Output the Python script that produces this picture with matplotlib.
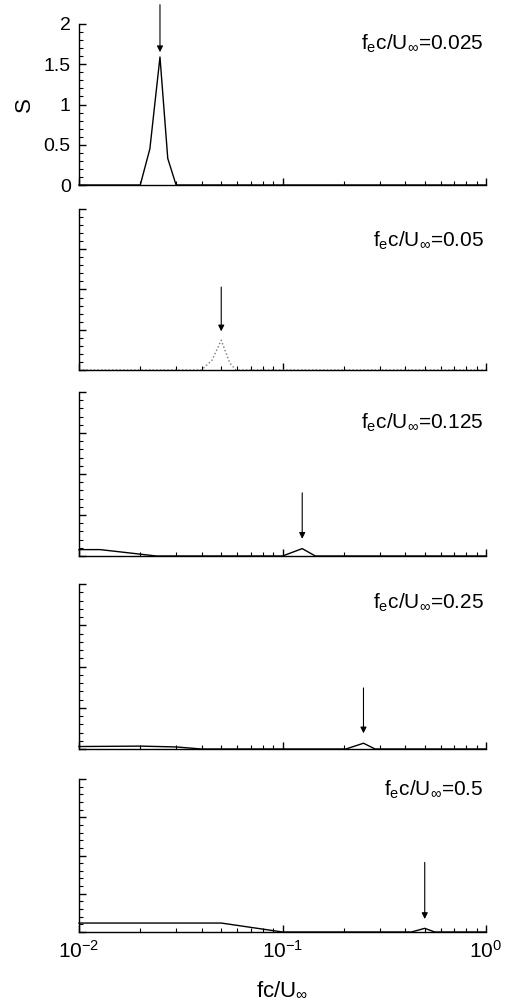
import matplotlib
matplotlib.use("Agg")
import matplotlib.pyplot as plt
from matplotlib.ticker import MultipleLocator, LogLocator, NullFormatter, FixedLocator

plt.rcParams['font.family'] = ['Liberation Sans', 'DejaVu Sans']
plt.rcParams['mathtext.fontset'] = 'custom'
plt.rcParams['mathtext.rm'] = 'Liberation Sans'
plt.rcParams['mathtext.it'] = 'Liberation Sans:italic'

# ---- data ----
excitation = [0.025, 0.05, 0.125, 0.25, 0.5]
labels = ["0.025", "0.05", "0.125", "0.25", "0.5"]

f1 = [0.01, 0.02, 0.0223, 0.025, 0.0273, 0.03, 1.0]
s1 = [0.0, 0.0, 0.45, 1.59, 0.33, 0.0, 0.0]

f2 = [0.01, 0.040, 0.045, 0.05, 0.055, 0.059, 1.0]
s2 = [0.0, 0.0, 0.12, 0.37, 0.09, 0.0, 0.0]

f3 = [0.01, 0.0127, 0.024, 0.1, 0.125, 0.145, 1.0]
s3 = [0.078, 0.078, 0.0, 0.0, 0.09, 0.0, 0.0]

f4 = [0.01, 0.02, 0.03, 0.04, 0.205, 0.25, 0.285, 1.0]
s4 = [0.03, 0.035, 0.025, 0.0, 0.0, 0.07, 0.0, 0.0]

f5 = [0.01, 0.05, 0.1, 0.43, 0.5, 0.56, 1.0]
s5 = [0.117, 0.117, 0.0, 0.0, 0.048, 0.0, 0.0]

freqs = [f1, f2, f3, f4, f5]
spectra = [s1, s2, s3, s4, s5]
arrow_top = [2.24, 1.03, 0.77, 0.74, 0.91]
arrow_tip = [1.65, 0.48, 0.21, 0.19, 0.17]
label_y = [0.875, 0.80, 0.81, 0.885, 0.93]
line_colors = ['black', '#777777', 'black', 'black', 'black']
line_styles = ['-', ':', '-', '-', '-']

yticks = [0, 0.5, 1, 1.5, 2]
ytick_labels = ["0", "0.5", "1", "1.5", "2"]
xticks = [0.01, 0.1, 1.0]
xtick_labels = [r"$\mathrm{10^{-2}}$", r"$\mathrm{10^{-1}}$", r"$\mathrm{10^{0}}$"]

# ---- layout (pixel positions from the reference) ----
W, H = 515, 1001
fig = plt.figure(figsize=(W / 100, H / 100), dpi=100)
panels_px = [(24, 185), (209, 370), (392, 556), (584, 749), (779, 932)]
left_px, right_px = 79, 486

axes = []
for i, (top, bot) in enumerate(panels_px):
    ax = fig.add_axes([left_px / W, 1 - bot / H, (right_px - left_px) / W, (bot - top) / H])
    axes.append(ax)
    ax.set_xscale('log')
    ax.set_xlim(0.01, 1.0)
    ax.set_ylim(0, 2)
    ax.plot(freqs[i], spectra[i], color=line_colors[i], linestyle=line_styles[i],
            lw=1.0, clip_on=False)
    ax.annotate('', xy=(excitation[i], arrow_tip[i]), xytext=(excitation[i], arrow_top[i]),
                arrowprops=dict(arrowstyle='-|>', color='black', lw=0.8,
                                mutation_scale=9, shrinkA=0, shrinkB=0),
                annotation_clip=False)
    ax.text(0.995, label_y[i], r"$\mathrm{f_{e}c/U_{\infty}}$=" + labels[i],
            transform=ax.transAxes, ha='right', va='center', fontsize=15)
    for s in ['top', 'right']:
        ax.spines[s].set_visible(False)
    for s in ['left', 'bottom']:
        ax.spines[s].set_linewidth(1.0)
    ax.yaxis.set_major_locator(FixedLocator(yticks))
    ax.yaxis.set_minor_locator(MultipleLocator(0.1))
    ax.xaxis.set_major_locator(FixedLocator(xticks))
    ax.xaxis.set_minor_locator(LogLocator(base=10, subs=range(2, 10)))
    ax.xaxis.set_minor_formatter(NullFormatter())
    ax.tick_params(which='major', direction='in', length=5, width=1.0)
    ax.tick_params(which='minor', direction='in', length=3, width=0.8)
    if i == 0:
        ax.set_yticklabels(ytick_labels, fontsize=14)
        ax.tick_params(axis='y', pad=6)
        ax.set_ylabel('S', fontsize=16, labelpad=6)
    else:
        ax.set_yticklabels([])
    if i == len(panels_px) - 1:
        ax.set_xticklabels(xtick_labels, fontsize=15)
        ax.tick_params(axis='x', pad=6)
        ax.set_xlabel(r"$\mathrm{fc/U_{\infty}}$", fontsize=16, labelpad=12)
    else:
        ax.set_xticklabels([])

fig.savefig('out.png', dpi=100)
